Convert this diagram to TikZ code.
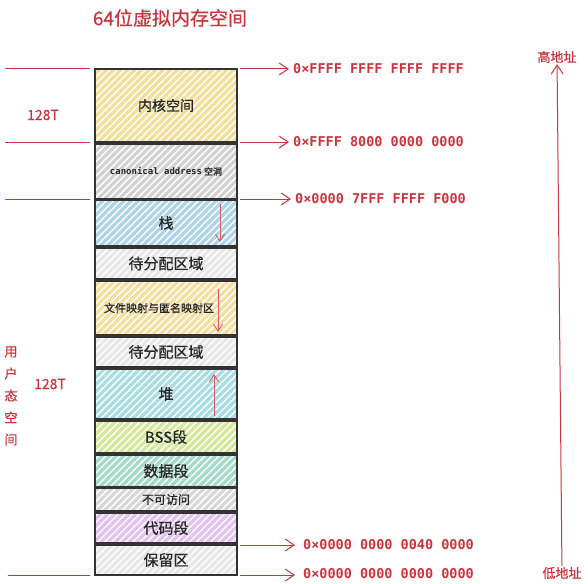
\documentclass[tikz,border=0pt]{standalone}
\usepackage{fontspec}
\setmainfont{Noto Sans CJK SC}
\setmonofont{DejaVu Sans Mono}
\newfontfamily\labelfont{Noto Sans CJK SC}[FakeBold=0.6]
\usetikzlibrary{positioning, arrows.meta, patterns.meta}

\definecolor{memred}{HTML}{C9353C}
\definecolor{kernfill}{HTML}{F2DF9C}
\definecolor{holefill}{HTML}{D2D2D2}
\definecolor{stackfill}{HTML}{AED4EC}
\definecolor{freefill}{HTML}{E8E8E8}
\definecolor{mmapfill}{HTML}{F4DFA0}
\definecolor{heapfill}{HTML}{A9DDE2}
\definecolor{bssfill}{HTML}{D6E89C}
\definecolor{datafill}{HTML}{A3DAC8}
\definecolor{nofill}{HTML}{D8D8D8}
\definecolor{textfill}{HTML}{E2C2EE}

\begin{document}
\begin{tikzpicture}[
    x=1pt, y=-1pt, >={Straight Barb[length=9pt,width=12pt]},
    seg/.style={preaction={fill=#1}, draw=black!80, line width=1.1pt,
        pattern={Lines[angle=45,distance=5pt,line width=1.4pt]}, pattern color=white,
        minimum width=142pt, inner sep=0pt, outer sep=0pt, text=black!85,
        font=\labelfont\fontsize{15}{15}\selectfont},
    guide/.style={draw=memred, line width=1pt},
    inarrow/.style={draw=memred!80, line width=0.9pt, ->, >={Straight Barb[length=7pt,width=9pt]}},
    addr/.style={font=\ttfamily\bfseries\fontsize{13.5}{14}\selectfont, text=memred, anchor=west, inner sep=0pt},
    note/.style={text=memred, font=\labelfont\fontsize{13}{13}\selectfont, inner sep=1pt}
]
    \useasboundingbox (0,0) rectangle (588,583);

    % Title
    \node[note, font=\labelfont\fontsize{19}{19}\selectfont] (title) at (170,18) {64位虚拟内存空间};

    % Segments, top to bottom
    \node[seg=kernfill, minimum height=73pt, anchor=north, font=\labelfont\fontsize{14}{14}\selectfont] (kernel) at (166,69) {内核空间};
    \node[seg=holefill, minimum height=55pt, below=2pt of kernel, font=\labelfont\fontsize{9}{9}\selectfont] (hole) {{\ttfamily\bfseries canonical address} 空洞};
    \node[seg=stackfill, minimum height=46pt, below=1pt of hole] (stack) {栈};
    \node[seg=freefill, minimum height=31pt, below=2pt of stack] (free1) {待分配区域};
    \node[seg=mmapfill, minimum height=54pt, below=2pt of free1, font=\labelfont\fontsize{11}{11}\selectfont] (mmap) {\hspace*{-14pt}文件映射与匿名映射区};
    \node[seg=freefill, minimum height=30pt, below=2pt of mmap] (free2) {待分配区域};
    \node[seg=heapfill, minimum height=50pt, below=2pt of free2] (heap) {堆};
    \node[seg=bssfill, minimum height=32pt, below=2pt of heap] (bss) {BSS段};
    \node[seg=datafill, minimum height=32pt, below=2pt of bss] (data) {数据段};
    \node[seg=nofill, minimum height=23pt, below=1pt of data, font=\labelfont\fontsize{12}{12}\selectfont] (noaccess) {不可访问};
    \node[seg=textfill, minimum height=30pt, below=2pt of noaccess] (text) {代码段};
    \node[seg=freefill, minimum height=30pt, below=2pt of text] (reserved) {保留区};

    % Growth directions
    \draw[inarrow] ([xshift=-17pt,yshift=-4pt]stack.north east) -- ([xshift=-17pt,yshift=4pt]stack.south east);
    \draw[inarrow] ([xshift=-19pt,yshift=-8pt]mmap.north east) -- ([xshift=-19pt,yshift=3pt]mmap.south east);
    \draw[inarrow] ([xshift=-23pt,yshift=3pt]heap.south east) -- ([xshift=-23pt,yshift=-5pt]heap.north east);

    % Boundary lines on the left
    \coordinate (edge) at (5,0);
    \draw[guide] (edge |- kernel.north west) -- ([xshift=-5pt]kernel.north west);
    \draw[guide] (edge |- kernel.south west) -- ([xshift=-5pt]kernel.south west);
    \draw[guide] (edge |- hole.south west) -- ([xshift=-5pt]hole.south west);
    \draw[guide] ([xshift=3pt]edge |- reserved.south west) -- ([xshift=-5pt]reserved.south west);

    % Sizes
    \node[note, font=\labelfont\fontsize{14}{14}\selectfont] (kernsize) at (43,115) {128T};
    \node[note, font=\labelfont\fontsize{14}{14}\selectfont] (usersize) at (50,384) {128T};
    \node[note, align=center, font=\labelfont\fontsize{13}{22}\selectfont] (userlabel) at (11,396) {用\\户\\态\\空\\间};

    % Addresses
    \node[addr, right=56pt of kernel.north east] (a1) {0×FFFF FFFF FFFF FFFF};
    \node[addr, right=56pt of kernel.south east] (a2) {0×FFFF 8000 0000 0000};
    \node[addr, right=58pt of hole.south east] (a3) {0×0000 7FFF FFFF F000};
    \node[addr, right=66pt of reserved.north east] (a4) {0×0000 0000 0040 0000};
    \node[addr, right=66pt of reserved.south east, yshift=1.5pt] (a5) {0×0000 0000 0000 0000};

    \draw[guide, ->] ([xshift=3pt]kernel.north east) -- ([xshift=-4pt]a1.west);
    \draw[guide, ->] ([xshift=3pt]kernel.south east) -- ([xshift=-4pt]a2.west);
    \draw[guide, ->] ([xshift=3pt]hole.south east) -- ([xshift=-4pt]a3.west);
    \draw[guide, ->] ([xshift=3pt]reserved.north east) -- ([xshift=-8pt]a4.west);
    \draw[guide, ->] ([xshift=3pt]reserved.south east) -- ([xshift=-8pt]reserved.south east -| a5.west);

    % Address direction
    \node[note] (high) at (557,57) {高地址};
    \node[note] (low) at (562,573) {低地址};
    \draw[guide, ->] (low) -- (high);

\end{tikzpicture}
\end{document}
